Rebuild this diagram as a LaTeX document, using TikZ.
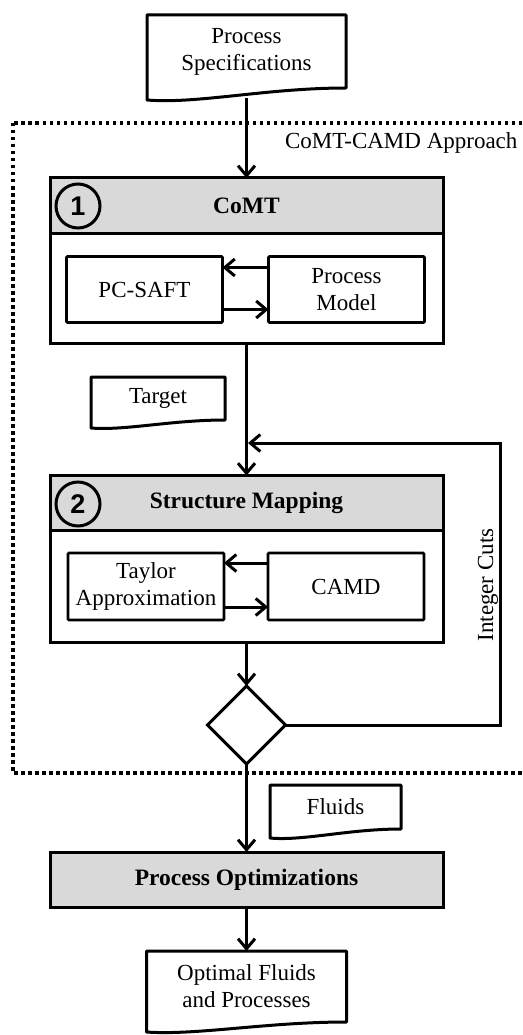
\documentclass[tikz,border=0pt]{standalone}
\usepackage{fontspec}
\setmainfont{Liberation Serif}
\setsansfont{Liberation Sans}
\usepackage{tikz}
\usetikzlibrary{shapes.geometric, arrows}
\usetikzlibrary{arrows.meta}
\usetikzlibrary{positioning, calc}
\definecolor{hdrgray}{RGB}{217,217,217}
\tikzstyle{box} = [rectangle, draw=black, line width=3pt, outer sep=0pt, inner sep=0pt, align=center]
\tikzstyle{headbox} = [box, fill=hdrgray, minimum width=393pt, minimum height=55pt, font=\fontsize{23.5}{27}\selectfont\bfseries]
\tikzstyle{bodybox} = [box, minimum width=393pt]
\tikzstyle{modelbox} = [box, line width=2.8pt, rounded corners=1pt, minimum width=156pt, minimum height=66pt]
\tikzstyle{docnode} = [rectangle, outer sep=0pt, inner sep=0pt, align=center]
\tikzstyle{docline} = [line width=3pt, line join=round]
\tikzstyle{numcircle} = [circle, draw=black, line width=3pt, minimum size=44pt, inner sep=0pt, font=\sffamily\bfseries\fontsize{27}{27}\selectfont]
\tikzstyle{decision} = [diamond, draw=black, line width=3pt, minimum width=78pt, minimum height=78pt, inner sep=0pt, outer sep=0pt]
\tikzstyle{arrow} = [line width=3pt, -{Straight Barb[length=10pt,width=17pt]}]

\begin{document}
\begin{tikzpicture}[x=1pt, y=-1pt, font=\fontsize{23}{27}\selectfont]
    \useasboundingbox (0,0) rectangle (522,1035);
    % dotted frame of the approach
    \draw [line width=3.5pt, dash pattern=on 3.5pt off 3.5pt] (13,123) rectangle (545,773);
    \node (approach) [anchor=east] at (521,143) {CoMT-CAMD Approach};

    \node (spec) [docnode, minimum width=199pt, minimum height=73pt] at (246.5,51.5) {Process\\Specifications};

    % step 1
    \node (comthead) [headbox] at (246.5,205.5) {CoMT};
    \node (comtbody) [bodybox, minimum height=110pt, below=0pt of comthead] {};
    \node (num1) [numcircle] at (78,206) {1};
    \node (pcsaft) [modelbox] at (144.5,289.5) {PC-SAFT};
    \node (pmodel) [modelbox] at (346.5,289.5) {Process\\Model};

    \node (target) [docnode, minimum width=134pt, minimum height=43pt] at (158,398.5) {Target};

    % step 2
    \node (smhead) [headbox] at (246.5,503) {Structure Mapping};
    \node (smbody) [bodybox, minimum height=112pt, below=0pt of smhead] {};
    \node (num2) [numcircle] at (78,504) {2};
    \node (taylor) [modelbox, minimum height=67pt] at (146,586.5) {Taylor\\Approximation};
    \node (camd) [modelbox, minimum height=67pt] at (346,586.5) {CAMD};

    \node (check) [decision] at (246.5,725) {};
    \coordinate (cutcorner) at (500,443);
    \coordinate (merge) at (248,443);
    \node (cuts) [rotate=90] at (488,585) {Integer Cuts};

    \node (fluids) [docnode, minimum width=131pt, minimum height=44pt] at (335.5,807) {Fluids};
    \node (procopt) [headbox] at (246.5,879.5) {Process Optimizations};
    \node (result) [docnode, minimum width=200pt, minimum height=71pt] at (246.5,986.5) {Optimal Fluids\\and Processes};

    % document outlines
    \foreach \d/\h in {spec/12, target/8, fluids/9, result/10}
        \draw [docline] (\d.south east) -- (\d.north east) -- (\d.north west) -- ($(\d.south west)+(0,\h)$) .. controls ($(\d.south west)!0.25!(\d.south east)+(0,1.35*\h)$) and ($(\d.south west)!0.6!(\d.south east)$) .. (\d.south east) -- cycle;

    \draw [arrow] ($(spec.south)+(0,10)$) -- (comthead.north);
    \draw [arrow] ([yshift=22pt]pmodel.west) -- ([yshift=22pt]pcsaft.east);
    \draw [arrow] ([yshift=-20pt]pcsaft.east) -- ([yshift=-20pt]pmodel.west);
    \draw [arrow] (comtbody.south) -- (smhead.north);
    \draw [arrow] ([yshift=23.5pt]camd.west) -- ([yshift=23.5pt]taylor.east);
    \draw [arrow] ([yshift=-20.5pt]taylor.east) -- ([yshift=-20.5pt]camd.west);
    \draw [arrow] (smbody.south) -- (check.north);
    \draw [arrow] (check.east) -| (cutcorner) -- (merge);
    \draw [arrow] (check.south) -- (procopt.north);
    \draw [arrow] (procopt.south) -- (result.north);
\end{tikzpicture}
\end{document}
